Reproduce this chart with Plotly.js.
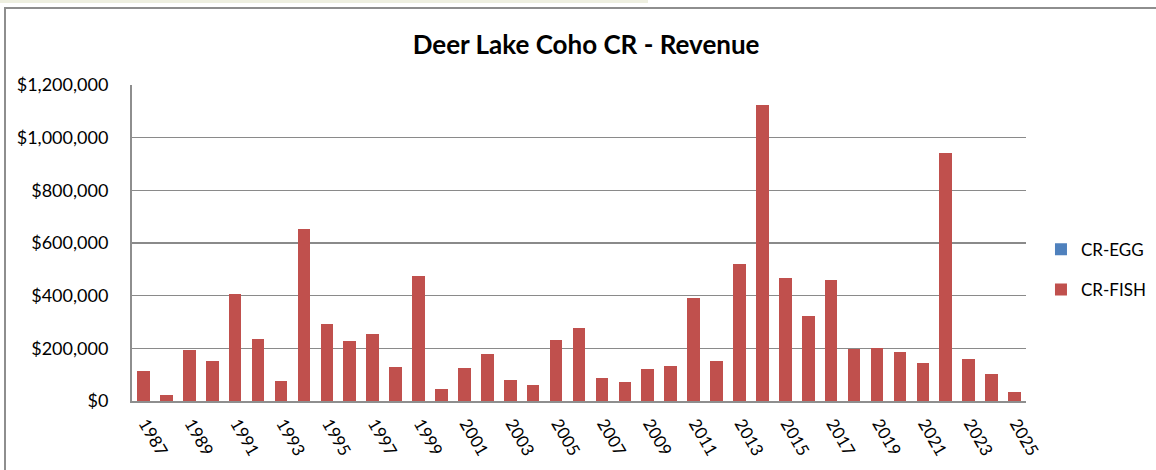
<!DOCTYPE html>
<html>
<head>
<meta charset="utf-8">
<script src="https://cdn.plot.ly/plotly-3.0.1.min.js"></script>
<style>
  html, body { margin: 0; padding: 0; background: #fff; }
  #wrap { position: relative; width: 1156px; height: 470px; overflow: hidden; }
  #chart { position: absolute; left: 0; top: 0; width: 1156px; height: 470px; }
  #frame { position: absolute; left: 4px; top: 7px; width: 1160px; height: 480px;
           border-left: 2px solid #8e8e8e; border-top: 2px solid #8e8e8e; pointer-events: none; }
  #strip { position: absolute; left: 0; top: 0; width: 648px; height: 3px; background: #eeefe0; pointer-events: none; }
</style>
</head>
<body>
<div id="wrap">
  <div id="chart"></div>
  <div id="strip"></div>
  <div id="frame"></div>
</div>
<script>
const years = [1987,1988,1989,1990,1991,1992,1993,1994,1995,1996,1997,1998,1999,2000,
  2001,2002,2003,2004,2005,2006,2007,2008,2009,2010,2011,2012,2013,2014,2015,2016,
  2017,2018,2019,2020,2021,2022,2023,2024,2025];
const crEgg = [0,0,0,0,0,0,0,0,0,0,0,0,0,0,0,0,0,0,0,0,0,0,0,0,0,0,0,0,0,0,0,0,0,0,0,0,0,0,0];
const crFish = [114000,21500,194000,152000,406000,237000,76000,652000,291000,229000,253000,129000,
  473000,44000,127000,177000,81000,62000,233000,276000,86000,71000,120000,134000,390000,152000,
  519000,1125000,468000,322000,458000,199000,203000,187000,144000,941000,158000,101000,35000];
const tickYears = [1987,1989,1991,1993,1995,1997,1999,2001,2003,2005,2007,2009,2011,2013,
  2015,2017,2019,2021,2023,2025];
const yTicks = [0,200000,400000,600000,800000,1000000,1200000];
const yTickText = ['$0','$200,000','$400,000','$600,000','$800,000','$1,000,000','$1,200,000'];

const FONT = 'Lato, "Open Sans", sans-serif';

const traces = [
  { type: 'bar', name: 'CR-EGG', x: years, y: crEgg, marker: { color: '#4f81bd' }, legendgroup: 'a' },
  { type: 'bar', name: 'CR-FISH', x: years, y: crFish, marker: { color: '#c0504d' }, legendgroup: 'b' }
];

const layout = {
  width: 1156, height: 470,
  margin: { l: 132, r: 130, t: 85, b: 69, pad: 0 },
  paper_bgcolor: '#ffffff', plot_bgcolor: '#ffffff',
  barmode: 'stack', bargap: 0.45,
  font: { family: FONT, color: '#000', size: 17 },
  title: { text: '<b>Deer Lake Coho CR - Revenue</b>', font: { family: FONT, size: 26, color: '#000' },
           xref: 'container', x: 0.507, xanchor: 'center', yref: 'container', y: 0.905, yanchor: 'middle' },
  xaxis: {
    type: 'linear', range: [1986.5, 2025.5],
    tickmode: 'array', tickvals: tickYears, ticktext: tickYears.map(String),
    tickangle: 60, tickfont: { family: FONT, size: 17, color: '#000' },
    ticklabelstandoff: 4, ticklabelshift: 2,
    showgrid: false, zeroline: false, showline: true, linecolor: '#8e8e8e', linewidth: 2,
    ticks: '', ticklen: 0
  },
  yaxis: {
    range: [0, 1200000], tickmode: 'array', tickvals: yTicks, ticktext: yTickText,
    tickfont: { family: FONT, size: 18, color: '#000' },
    ticklabelstandoff: 18,
    showgrid: true, gridcolor: '#8a8a8a', gridwidth: 1.6, zeroline: false,
    showline: true, linecolor: '#8e8e8e', linewidth: 2, ticks: '', ticklen: 0
  },
  showlegend: true,
  legend: {
    xref: 'container', yref: 'container', x: 0.9005, y: 0.426, xanchor: 'left', yanchor: 'middle',
    traceorder: 'grouped', tracegroupgap: 15, font: { family: FONT, size: 17, color: '#000' },
    bgcolor: 'rgba(0,0,0,0)', itemwidth: 30
  }
};

Plotly.newPlot('chart', traces, layout, { displayModeBar: false, staticPlot: true });
</script>
</body>
</html>
